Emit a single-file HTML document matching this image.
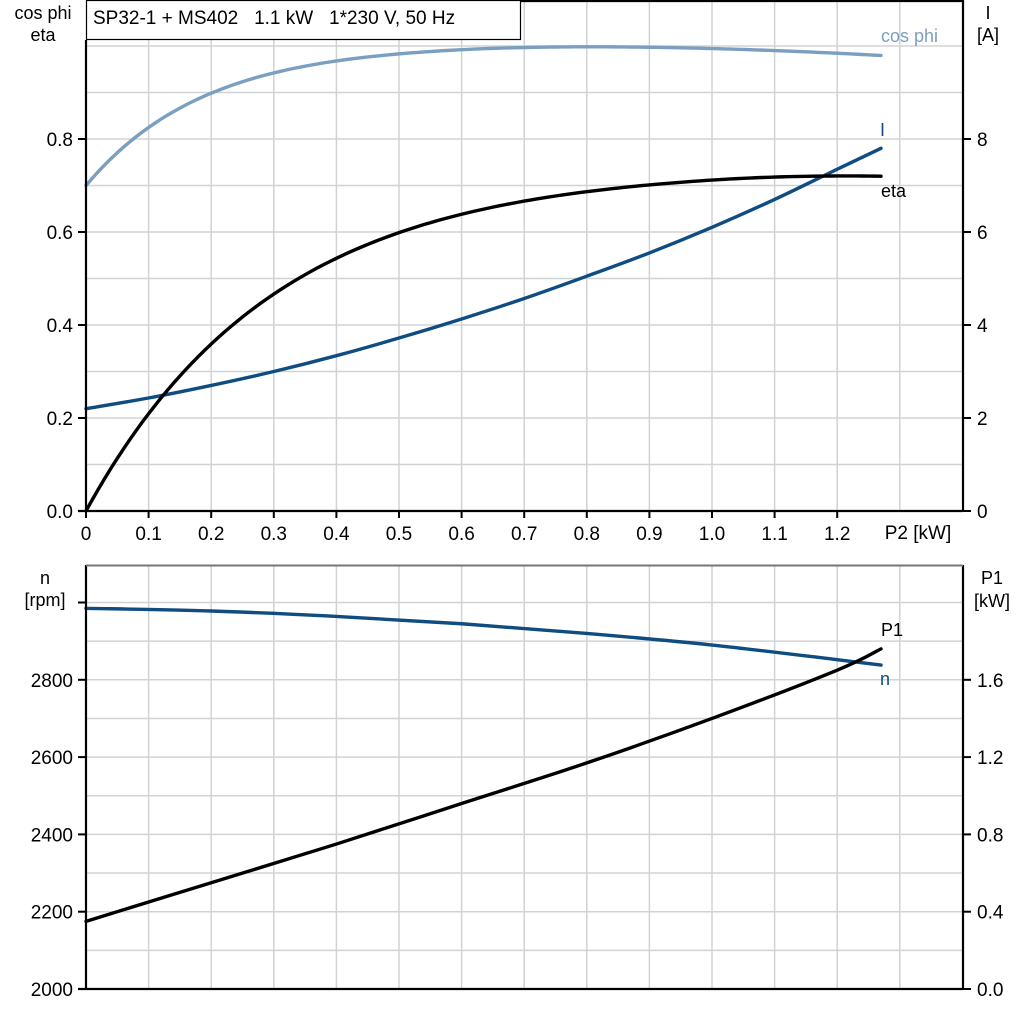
<!DOCTYPE html>
<html><head><meta charset="utf-8"><style>
html,body{margin:0;padding:0;background:#fff;}
svg{display:block;font-family:"Liberation Sans",Arial,sans-serif;}
</style></head><body>
<svg id="s" width="1024" height="1024" viewBox="0 0 1024 1024" xmlns="http://www.w3.org/2000/svg">
<g id="grid" stroke="#d0d3d6" stroke-width="1.5"></g>
<g id="curves" fill="none" stroke-width="3.4" stroke-linecap="round" stroke-linejoin="round"></g>
<g stroke="#000" stroke-width="2.2" fill="none">
  <line x1="86" y1="40" x2="86" y2="511"/>
  <line x1="78" y1="511" x2="963" y2="511"/>
  <line x1="963" y1="0" x2="963" y2="512"/>
  <line x1="520" y1="1" x2="963" y2="1"/>
  <line x1="86" y1="565" x2="86" y2="989"/>
  <line x1="78" y1="989" x2="963" y2="989"/>
  <line x1="963" y1="565" x2="963" y2="990"/>
</g>
<line x1="86" y1="565.5" x2="963" y2="565.5" stroke="#777" stroke-width="2"/>
<g id="ticks" stroke="#000" stroke-width="2"></g>
<rect x="86.5" y="0.5" width="434" height="39" fill="#fff" stroke="#000" stroke-width="1.2"/>
<text x="93" y="24" font-size="19">SP32-1 + MS402&#160;&#160;&#160;1.1 kW&#160;&#160;&#160;1*230 V, 50 Hz</text>
<g id="labels" font-size="19" fill="#000"></g>
<g font-size="18" text-anchor="middle">
  <text x="43" y="19">cos phi</text><text x="43" y="41">eta</text>
  <text x="988" y="19">I</text><text x="988" y="41">[A]</text>
  <text x="45" y="584">n</text><text x="45" y="606">[rpm]</text>
  <text x="992" y="584">P1</text><text x="992" y="607">[kW]</text>
  <text x="918" y="539" font-size="19">P2 [kW]</text>
</g>
<g font-size="18">
  <text x="881" y="42" fill="#7b9fc0">cos phi</text>
  <text x="880" y="136" fill="#0f4c81">I</text>
  <text x="881" y="197" fill="#000">eta</text>
  <text x="881" y="636" fill="#000">P1</text>
  <text x="880" y="685" fill="#0f4c81">n</text>
</g>
</svg>
<script>
var NS="http://www.w3.org/2000/svg";
function el(p,t,a,txt){var e=document.createElementNS(NS,t);for(var k in a)e.setAttribute(k,a[k]);if(txt!==undefined)e.textContent=txt;document.getElementById(p).appendChild(e);}
function X(v){return 86+v*626;}
var g="grid";
for(var i=1;i<=13;i++){el(g,"line",{x1:X(i/10),y1:(X(i/10)<521?40:2),x2:X(i/10),y2:511});el(g,"line",{x1:X(i/10),y1:566,x2:X(i/10),y2:989});}
function YT(v){return 511-v*465;}
for(var i=1;i<=10;i++){var y=YT(i/10);el(g,"line",{x1:86,y1:y,x2:963,y2:y});}
function YB(r){return 989-(r-2000)*0.3865;}
for(var r=2100;r<=3000;r+=100){el(g,"line",{x1:86,y1:YB(r),x2:963,y2:YB(r)});}
for(var i=0;i<=12;i++){var x=X(i/10);el("ticks","line",{x1:x,y1:511,x2:x,y2:518});
 el("labels","text",{x:x,y:540,"text-anchor":"middle"},i==0?"0":(i/10).toFixed(1));}
for(var i=0;i<=8;i+=2){var y=YT(i/10);el("ticks","line",{x1:78,y1:y,x2:86,y2:y});el("ticks","line",{x1:963,y1:y,x2:971,y2:y});
 el("labels","text",{x:73,y:y+7,"text-anchor":"end"},(i/10).toFixed(1));
 el("labels","text",{x:977,y:y+7},String(i));}
for(var r=2000;r<=3000;r+=200){var y=YB(r);el("ticks","line",{x1:78,y1:y,x2:86,y2:y});
 if(r<3000)el("labels","text",{x:73,y:y+7,"text-anchor":"end"},String(r));}
for(var k=0;k<=4;k++){var y=989-k*77.3;el("ticks","line",{x1:963,y1:y,x2:971,y2:y});
 el("labels","text",{x:977,y:y+7},(k*0.4).toFixed(1));}
function path(pts,yf){var P=pts.map(function(p){return [X(p[0]),yf(p[1])];});
 var d="M"+P[0][0]+","+P[0][1];
 for(var i=0;i<P.length-1;i++){var p0=P[i>0?i-1:i],p1=P[i],p2=P[i+1],p3=P[i+2<P.length?i+2:i+1];
  d+=" C"+(p1[0]+(p2[0]-p0[0])/6)+","+(p1[1]+(p2[1]-p0[1])/6)+" "+(p2[0]-(p3[0]-p1[0])/6)+","+(p2[1]-(p3[1]-p1[1])/6)+" "+p2[0]+","+p2[1];}
 return d;}
function fpath(f,yf){var d="";for(var i=0;i<=127;i++){var x=i/100;d+=(i?"L":"M")+X(x).toFixed(2)+","+yf(f(x)).toFixed(2);}return d;}
function fcos(x){var c=1.005-0.305*Math.exp(-x/0.19);if(x>0.6)c-=0.025*Math.pow((x-0.6)/0.67,2);return c;}
function feta(x){var e=0.738*(1-Math.exp(-x/0.3));if(x>1.0)e-=0.1*(x-1.0)*(x-1.0);return e;}
var I=[[0,0.22],[0.1,0.243],[0.2,0.27],[0.3,0.30],[0.4,0.334],[0.5,0.372],[0.6,0.413],[0.7,0.457],[0.8,0.505],[0.9,0.555],[1.0,0.61],[1.1,0.67],[1.2,0.735],[1.27,0.78]];
var n=[[0,2985],[0.2,2978],[0.4,2964],[0.6,2945],[0.8,2920],[1.0,2890],[1.2,2852],[1.27,2838]];
var p1=[[0,0.35],[0.2,0.55],[0.4,0.75],[0.6,0.96],[0.8,1.17],[1.0,1.40],[1.2,1.65],[1.27,1.76]];
function YP(v){return 989-v*193.25;}
el("curves","path",{d:fpath(fcos,YT),stroke:"#7b9fc0"});
el("curves","path",{d:path(I,YT),stroke:"#0f4c81"});
el("curves","path",{d:fpath(feta,YT),stroke:"#000"});
el("curves","path",{d:path(n,YB),stroke:"#0f4c81"});
el("curves","path",{d:path(p1,YP),stroke:"#000"});
</script>
</body></html>
